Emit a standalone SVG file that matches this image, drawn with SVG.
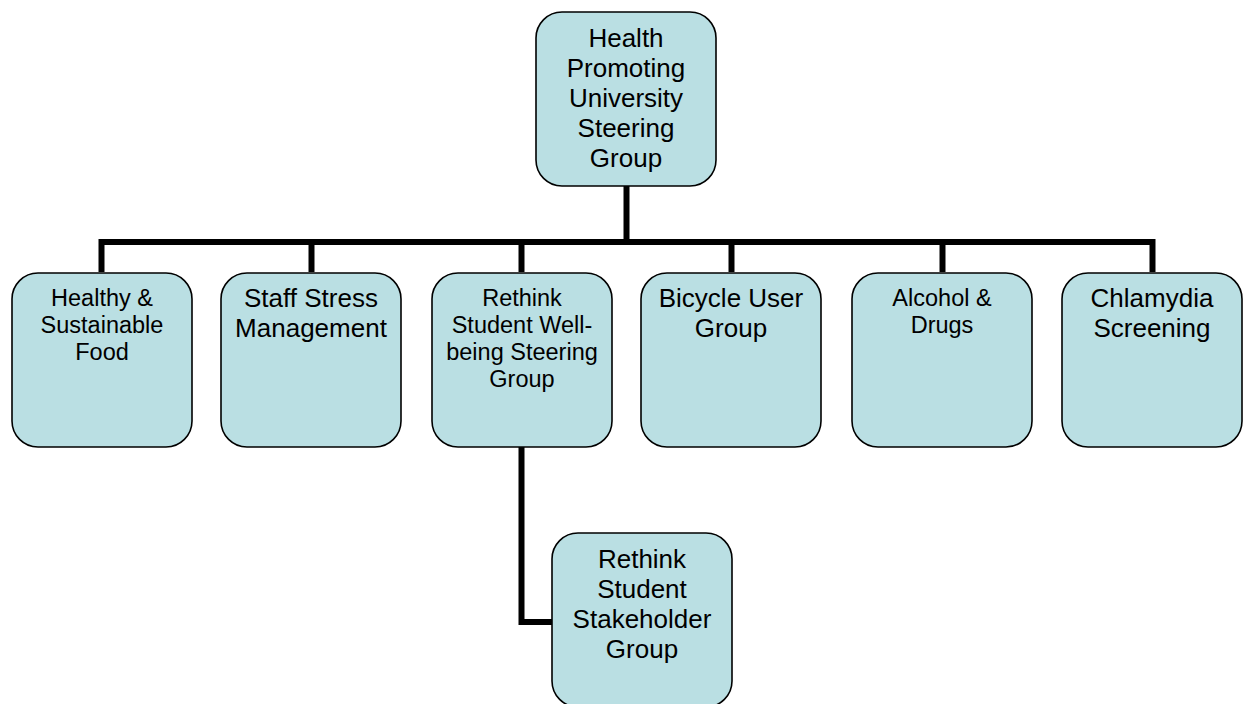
<svg xmlns="http://www.w3.org/2000/svg" width="1246" height="704" viewBox="0 0 1246 704">
  <style>
    .box { fill: #badfe3; stroke: #000; stroke-width: 1.6; }
    .lbl { font-family: "Liberation Sans", Arial, sans-serif; fill: #000; text-anchor: middle; }
    .big { font-size: 26px; }
    .small { font-size: 23.5px; }
    .wire { fill: none; stroke: #000; stroke-width: 6; stroke-linejoin: miter; stroke-linecap: butt; }
  </style>
  <rect width="1246" height="704" fill="#fff"/>

  <!-- connectors -->
  <g id="connectors">
    <path class="wire" d="M626.5 186 V242"/>
    <path class="wire" d="M101.5 272 V242 H1152.5 V272"/>
    <path class="wire" d="M311.5 242 V272"/>
    <path class="wire" d="M521.5 242 V272"/>
    <path class="wire" d="M731.5 242 V272"/>
    <path class="wire" d="M942.5 242 V272"/>
    <path class="wire" d="M521.5 446 V622 H552"/>
  </g>

  <g id="steering">
    <rect class="box" x="536" y="12" width="180" height="174" rx="26"/>
    <text class="lbl big" x="626" y="46.5">Health</text>
    <text class="lbl big" x="626" y="76.5">Promoting</text>
    <text class="lbl big" x="626" y="106.5">University</text>
    <text class="lbl big" x="626" y="136.5">Steering</text>
    <text class="lbl big" x="626" y="166.5">Group</text>
  </g>

  <g id="food">
    <rect class="box" x="12" y="273" width="180" height="174" rx="26"/>
    <text class="lbl small" x="102" y="306">Healthy &amp;</text>
    <text class="lbl small" x="102" y="333">Sustainable</text>
    <text class="lbl small" x="102" y="360">Food</text>
  </g>

  <g id="stress">
    <rect class="box" x="221" y="273" width="180" height="174" rx="26"/>
    <text class="lbl big" x="311" y="307">Staff Stress</text>
    <text class="lbl big" x="311" y="337">Management</text>
  </g>

  <g id="wellbeing">
    <rect class="box" x="432" y="273" width="180" height="174" rx="26"/>
    <text class="lbl small" x="522" y="305.5">Rethink</text>
    <text class="lbl small" x="522" y="332.5">Student Well-</text>
    <text class="lbl small" x="522" y="359.5">being Steering</text>
    <text class="lbl small" x="522" y="386.5">Group</text>
  </g>

  <g id="bicycle">
    <rect class="box" x="641" y="273" width="180" height="174" rx="26"/>
    <text class="lbl big" x="731" y="307">Bicycle User</text>
    <text class="lbl big" x="731" y="337">Group</text>
  </g>

  <g id="alcohol">
    <rect class="box" x="852" y="273" width="180" height="174" rx="26"/>
    <text class="lbl small" x="942" y="306">Alcohol &amp;</text>
    <text class="lbl small" x="942" y="333">Drugs</text>
  </g>

  <g id="chlamydia">
    <rect class="box" x="1062" y="273" width="180" height="174" rx="26"/>
    <text class="lbl big" x="1152" y="307">Chlamydia</text>
    <text class="lbl big" x="1152" y="337">Screening</text>
  </g>

  <g id="stakeholder">
    <rect class="box" x="552" y="533" width="180" height="174" rx="26"/>
    <text class="lbl big" x="642" y="568">Rethink</text>
    <text class="lbl big" x="642" y="598">Student</text>
    <text class="lbl big" x="642" y="628">Stakeholder</text>
    <text class="lbl big" x="642" y="658">Group</text>
  </g>
</svg>
